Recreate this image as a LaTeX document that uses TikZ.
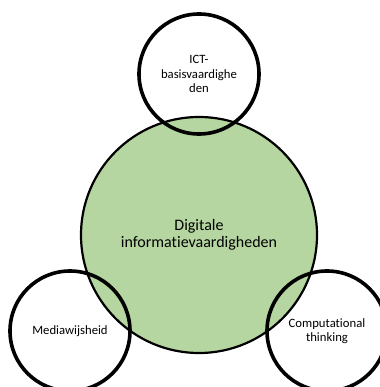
\documentclass[tikz,border=0pt]{standalone}
\usepackage{fontspec}
\setmainfont[Ligatures=NoCommon]{Carlito}
\definecolor{skillgreen}{RGB}{181,214,160}

\begin{document}
\begin{tikzpicture}[x=1bp, y=1bp,
    core/.style={circle, draw, line width=2.2bp, fill=skillgreen,
      minimum size=236bp, inner sep=0pt, align=center,
      font=\fontsize{16bp}{17bp}\selectfont},
    skill/.style={circle, draw, line width=3.6bp,
      minimum size=120bp, inner sep=0pt, align=center,
      font=\fontsize{12.7bp}{14.5bp}\selectfont}]

  \clip (0,0) rectangle (380,387);

  \node (dig) [core] at (199,152) {Digitale\\informatievaardigheden};

  \node (ict) [skill] at (199,313) {ICT-\\basisvaardighe\\den};
  \node (media) [skill] at (70,56) {Mediawijsheid};
  \node (comp) [skill] at (327,56) {Computational\\thinking};

\end{tikzpicture}
\end{document}
